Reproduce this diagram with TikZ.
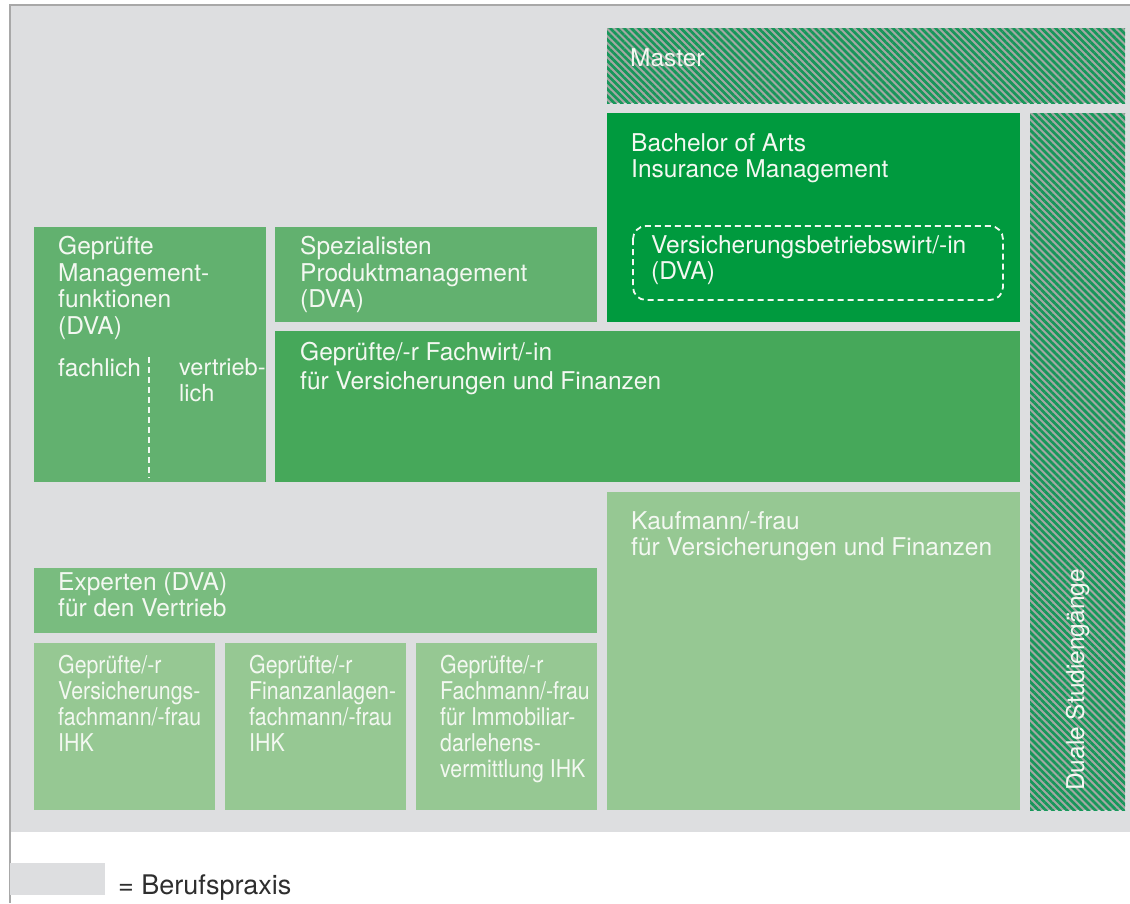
\documentclass[tikz,border=0pt]{standalone}
\usepackage{fontspec}
\setmainfont{TeX Gyre Heros}
\newfontfamily\condfont[FakeStretch=0.87]{TeX Gyre Heros}
\usetikzlibrary{patterns.meta}
\definecolor{bg}{HTML}{DDDEE0}
\definecolor{frame}{HTML}{A8A8A8}
\definecolor{cBach}{HTML}{009A3E}
\definecolor{cFach}{HTML}{46A85A}
\definecolor{cMid}{HTML}{62B16F}
\definecolor{cExp}{HTML}{79BC7F}
\definecolor{cLight}{HTML}{96C893}
\definecolor{hGreen}{HTML}{16975A}
\definecolor{hGray}{HTML}{A3A7A3}
\definecolor{txt}{HTML}{F3F8F1}
\definecolor{legtxt}{HTML}{2E2E2E}
\begin{document}
\begin{tikzpicture}[x=1pt,y=-1pt,
  lbl/.style={anchor=north west, inner sep=0pt, align=left, text=txt,
    font=\fontsize{24.5}{26.5}\selectfont, execute at begin node={\rule{0pt}{18pt}}},
  clbl/.style={lbl, font=\condfont\fontsize{24.5}{26.1}\selectfont},
  hatch/.style={pattern={Lines[angle=-45,distance=5pt,line width=2.7pt]}, pattern color=hGreen},
  wdash/.style={draw=txt, line width=1.8pt, dash pattern=on 6pt off 4pt}]
\useasboundingbox (0,0) rectangle (1130,903);
% background
\fill[bg] (10,5) rectangle (1130,832);
\draw[frame, line width=2pt] (10,903) -- (10,5) -- (1130,5);
% hatched boxes
\fill[hGray] (607,28) rectangle (1125,103);
\fill[hatch] (607,28) rectangle (1125,103);
\fill[hGray] (1030,113) rectangle (1125,810);
\fill[hatch] (1030,113) rectangle (1125,810);
% boxes
\fill[cBach] (607,113) rectangle (1020,322);
\fill[cMid] (34,227) rectangle (266,482);
\fill[cMid] (275,227) rectangle (597,322);
\fill[cFach] (275,331) rectangle (1020,482);
\fill[cLight] (607,492) rectangle (1020,810);
\fill[cExp] (34,568) rectangle (597,633);
\fill[cLight] (34,643) rectangle (215,810);
\fill[cLight] (225,643) rectangle (406,810);
\fill[cLight] (416,643) rectangle (597,810);
% dashed elements
\draw[wdash, rounded corners=13pt] (633,226) rectangle (1003,300);
\coordinate (dvtop) at (149,357);
\coordinate (dvbot) at (149,478);
\draw[wdash] (dvtop) -- (dvbot);
% texts (north west = first baseline - 18)
\node[lbl] (master) at (630,48) {Master};
\node[lbl] (bach) at (631,133) {Bachelor of Arts\\Insurance Management};
\node[lbl] (vbw) at (651,235) {Versicherungsbetriebswirt/-in\\(DVA)};
\node[lbl] (mgmt) at (58,236) {Geprüfte\\Management-\\funktionen\\(DVA)};
\node[lbl] (fachl) at (58,358) {fachlich};
\node[lbl, font=\fontsize{23.5}{26.5}\selectfont] (vertr) at (179,358) {vertrieb-\\lich};
\node[lbl] (spez) at (300,236) {Spezialisten\\Produktmanagement\\(DVA)};
\node[lbl, font=\fontsize{24.5}{29}\selectfont] (fw) at (300,342) {Geprüfte/-r Fachwirt/-in\\für Versicherungen und Finanzen};
\node[lbl] (kfm) at (631,511) {Kaufmann/-frau\\für Versicherungen und Finanzen};
\node[lbl] (exp) at (58,572) {Experten (DVA)\\für den Vertrieb};
\node[clbl] (vf) at (58,655) {Geprüfte/-r\\Versicherungs-\\fachmann/-frau\\IHK};
\node[clbl] (ff) at (249,655) {Geprüfte/-r\\Finanzanlagen-\\fachmann/-frau\\IHK};
\node[clbl] (if) at (440,655) {Geprüfte/-r\\Fachmann/-frau\\für Immobiliar-\\darlehens-\\vermittlung IHK};
\node[anchor=base west, inner sep=0pt, text=txt, font=\fontsize{24.5}{26.5}\selectfont, rotate=90] (duale) at (1084,791) {Duale Studiengänge};
% legend
\fill[bg] (10,863) rectangle (105,895);
\node[anchor=base west, inner sep=0pt, text=legtxt, font=\fontsize{27}{30}\selectfont] (leg) at (118,894) {= Berufspraxis};
\end{tikzpicture}
\end{document}
